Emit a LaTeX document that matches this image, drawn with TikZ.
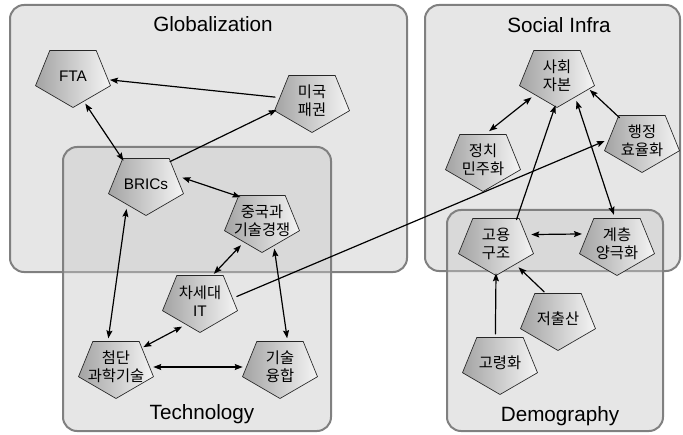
\documentclass[tikz,border=0pt]{standalone}
\usepackage{fontspec}
\setmainfont{Liberation Sans}
\newfontfamily\kr{Noto Sans CJK KR}
\usetikzlibrary{shapes.geometric,arrows.meta}
\tikzset{
  group/.style={draw=black!50, line width=1.5pt, rounded corners=10.5pt, fill=black!22, fill opacity=0.44},
  grouptitle/.style={font=\fontsize{15.5}{18}\selectfont},
  pentfill/.style={draw=black!85, line width=0.5pt, left color=black!36, right color=black!4},
  pentnode/.style={shape=ellipse, minimum width=55.5pt, minimum height=43.5pt, inner xsep=-4pt, inner ysep=0pt, align=center, font=\kr\fontsize{11.5}{13.5}\selectfont},
  link/.style={line width=0.9pt}
}
% pentagon with its label: name, centre, text
\newcommand\pent[3]{%
  \shade[pentfill] (#2) ++(-23.2,-25.5) -- ++(46.4,0) -- ++(14.3,35.2) -- ++(-37.5,21.8) -- ++(-37.5,-21.8) -- cycle;
  \node[pentnode] (#1) at (#2) {#3};}
\begin{document}
\begin{tikzpicture}[x=0.75pt, y=-0.75pt, >={Stealth[length=6pt,width=4.5pt,inset=1pt]}, line join=round, line cap=round]
  \useasboundingbox (0,0) rectangle (683,435);
  % groups
  \draw[group] (10,5) rectangle (407,272);
  \draw[group] (63,147) rectangle (331,431);
  \draw[group] (425,5) rectangle (680,271);
  \draw[group] (447,210) rectangle (663,431);
  \node[grouptitle] (tglob) at (213,24) {Globalization};
  \node[grouptitle] (ttech) at (202,414) {Technology};
  \node[grouptitle] (tsoc) at (559,25) {Social Infra};
  \node[grouptitle] (tdemo) at (560,416) {Demography};
  % factors
  \pent{fta}{73,76}{\rmfamily FTA}
  \pent{mg}{312,101}{미국\\패권}
  \pent{brics}{146,184}{\rmfamily BRICs}
  \pent{cn}{262,221}{중국과\\기술경쟁}
  \pent{it}{200,301}{차세대\\\rmfamily IT}
  \pent{adv}{116,367}{첨단\\과학기술}
  \pent{conv}{280,367}{기술\\융합}
  \pent{sc}{557,76}{사회\\자본}
  \pent{demo}{483,160}{정치\\민주화}
  \pent{admin}{642,141}{행정\\효율화}
  \pent{emp}{496,244}{고용\\구조}
  \pent{pol}{617,244}{계층\\양극화}
  \pent{birth}{558,319}{저출산}
  \pent{aging}{500,363}{고령화}
  % links
  \draw[link,->] (mg) -- (fta);
  \draw[link,<->] (fta.-66) -- (brics.134);
  \draw[link,->] (brics.43) -- (mg.194);
  \draw[link,<->] (brics.10) -- (cn.132);
  \draw[link,<->] (brics.232) -- (adv.105);
  \draw[link,<->] (cn.229) -- (it.63);
  \draw[link,<->] (cn.-66) -- (conv.76);
  \draw[link,<->] (it.235) -- (adv.36);
  \draw[link,<->] (adv) -- (conv);
  \draw[link,->] (it.7) -- (admin.west);
  \draw[link,<->] (sc.220) -- (demo.78);
  \draw[link,->] (emp.50) -- (sc.-93);
  \draw[link,<->] (sc.-52) -- (pol.96);
  \draw[link,->] (admin.134) -- (sc.-23);
  \draw[link,<->] (emp.15) -- (pol.164);
  \draw[link,->] (aging.99) -- (emp.south);
  \draw[link,->] (birth.117) -- (emp.-46);
\end{tikzpicture}
\end{document}
